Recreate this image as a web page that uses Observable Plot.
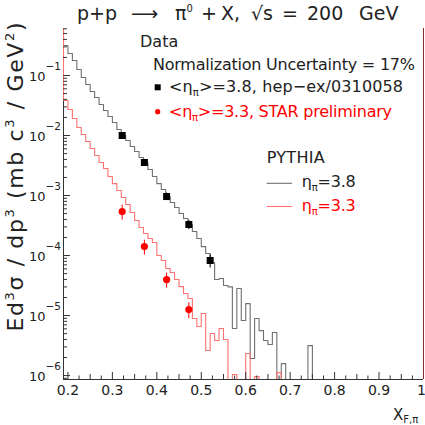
<!DOCTYPE html>
<html><head><meta charset="utf-8">
<script src="https://cdn.jsdelivr.net/npm/d3@7"></script>
<script src="https://cdn.jsdelivr.net/npm/@observablehq/plot@0.6"></script>
<style>html,body{margin:0;padding:0;background:#fff} svg{display:block}</style>
</head><body><div id="chart"></div>
<script>
// ---- data ----
const binStart = 0.19, binWidth = 0.01;
const pythia38 = [0.316,0.233,0.178,0.126,0.0926,0.0708,0.0541,0.0430,0.0329,0.0261,
  0.0207,0.0165,0.0126,0.0100,0.00825,0.00656,0.00541,0.00430,0.00355,0.00271,
  0.00207,0.00158,0.00126,0.000962,0.000764,0.000631,0.000501,0.000414,0.000329,0.000251,
  0.000192,0.000141,0.000108,0.0000764,0.0000398,0.0000414,0.0000316,0.0000301,0.00000607,0.0000282,
  0.00000826,0.0000158,0.00000192,0.00000891,0.00000562,0.00000383,0.00000329,0.00000521,0,0.00000158,
  0,0,0,0,0,0.00000316,0,0,0,0,
  0,0,0,0,0,0,0,0,0,0,
  0,0,0,0,0,0,0,0,0,0,0];
const pythia33 = [0.0383,0.0271,0.0192,0.0136,0.0104,0.00794,0.00607,0.00464,0.00355,0.00282,
  0.00207,0.00158,0.00121,0.000926,0.000708,0.000521,0.000383,0.000293,0.000233,0.000192,
  0.000165,0.000100,0.0000826,0.0000607,0.0000521,0.0000398,0.0000304,0.0000233,0.0000192,0.00000891,
  0.00000656,0.0000108,0.00000261,0.00000501,0.00000383,0.00000607,0.00000398,0,0.00000104,0,
  0,0.00000233,0,0.000000962,0,0,0,0,0.00000112,0,
  0,0,0,0,0,0,0,0,0,0,
  0,0,0,0,0,0,0,0,0,0,
  0,0,0,0,0,0,0,0,0,0,0];
const data38X = [0.322,0.372,0.422,0.472,0.520];
const data38Y = [0.0100,0.00355,0.000962,0.000329,0.0000826];
const data38Err = [0.10,0.12,0.14,0.18,0.25];
const data33X = [0.322,0.372,0.422,0.472];
const data33Y = [0.000541,0.000141,0.0000398,0.0000126];
const data33Err = [0.28,0.28,0.28,0.30];
const yDecades = [1e-6,1e-5,1e-4,1e-3,1e-2,1e-1];
const yExponents = ["\u22126","\u22125","\u22124","\u22123","\u22122","\u22121"];
const xTickValues = [0.2,0.3,0.4,0.5,0.6,0.7,0.8,0.9];
const xTickLabels = ["0.2","0.3","0.4","0.5","0.6","0.7","0.8","0.9"];
const xLastTick = [1.0];
const xLastLabel = ["1"];

// ---- layout ----
const W = 425, H = 425, mL = 63, mR = 2, mT = 28, mB = 46;
const fw = W - mL - mR, fh = H - mT - mB;
const yMin = 8.6e-7, yMax = 0.607, FLOOR = 1e-9;
const FONT = "DejaVu Sans, Liberation Sans, sans-serif";
const GRAY = "#707070", PINK = "#ff7070", RED = "#ff0000";

function histPoints(vals) {
  const pts = [{x: binStart, y: 10}];
  vals.forEach((v, i) => pts.push({x: binStart + i * binWidth, y: v > 0 ? v : FLOOR}));
  const last = vals[vals.length - 1];
  pts.push({x: binStart + vals.length * binWidth, y: last > 0 ? last : FLOOR});
  return pts;
}
const yMinor = [];
for (let e = -7; e <= -1; e++) for (let m = 2; m <= 9; m++) {
  const v = m * Math.pow(10, e);
  if (v > yMin && v < yMax) yMinor.push(v);
}
const xMid = [0.25,0.35,0.45,0.55,0.65,0.75,0.85,0.95];
const xSmall = d3.range(0.225, 1.0, 0.05);

const d38 = data38X.map((x, i) => ({x, y: data38Y[i], lo: data38Y[i] * (1 - data38Err[i]), hi: data38Y[i] * (1 + data38Err[i])}));
const d33 = data33X.map((x, i) => ({x, y: data33Y[i], lo: data33Y[i] * (1 - data33Err[i]), hi: data33Y[i] * (1 + data33Err[i])}));

const plot = Plot.plot({
  width: W, height: H,
  marginLeft: mL, marginRight: mR, marginTop: mT, marginBottom: mB,
  style: {fontFamily: FONT, background: "#fff", overflow: "visible"},
  x: {domain: [binStart, 1.0], axis: null},
  y: {type: "log", domain: [yMin, yMax], axis: null},
  marks: [
    Plot.ruleX([binStart], {stroke: "#333"}),
    Plot.ruleY([yMin], {stroke: "#333"}),
    Plot.line(histPoints(pythia38), {x: "x", y: "y", curve: "step-after", stroke: GRAY, strokeWidth: 1.1, clip: true}),
    Plot.line(histPoints(pythia33), {x: "x", y: "y", curve: "step-after", stroke: PINK, strokeWidth: 1.1, clip: true}),
    Plot.ruleX([1.0], {stroke: "#8b2a2a"}),
    Plot.tickY(yDecades, {y: d => d, insetRight: fw - 7, stroke: "#333"}),
    Plot.tickY(yMinor, {y: d => d, insetRight: fw - 4, stroke: "#333"}),
    Plot.tickX(xTickValues, {x: d => d, insetTop: fh - 7, stroke: "#333"}),
    Plot.tickX(xMid, {x: d => d, insetTop: fh - 5, stroke: "#333"}),
    Plot.tickX(xSmall, {x: d => d, insetTop: fh - 3.5, stroke: "#333"}),
    Plot.text(yDecades, {y: d => d, text: () => "10", frameAnchor: "left", textAnchor: "end", dx: -18, dy: 1.5, fontSize: 13, fill: "#222"}),
    Plot.text(yDecades, {y: d => d, text: (d, i) => yExponents[i], frameAnchor: "left", textAnchor: "start", dx: -18, dy: -9, fontSize: 10.5, fill: "#222"}),
    Plot.text(xTickValues, {x: d => d, text: (d, i) => xTickLabels[i], frameAnchor: "bottom", dy: 15, fontSize: 14, fill: "#222"}),
    Plot.text(xLastTick, {x: d => d, text: (d, i) => xLastLabel[i], frameAnchor: "bottom", dy: 15, dx: -2, fontSize: 14, fill: "#222"}),
    Plot.ruleX(d38, {x: "x", y1: "lo", y2: "hi", stroke: "#000"}),
    Plot.dot(d38, {x: "x", y: "y", symbol: "square", r: 3.95, fill: "#000", stroke: "none"}),
    Plot.ruleX(d33, {x: "x", y1: "lo", y2: "hi", stroke: RED}),
    Plot.dot(d33, {x: "x", y: "y", r: 3.6, fill: RED, stroke: "none"})
  ]
});
document.getElementById("chart").appendChild(plot);

// ---- texts with sub/superscripts ----
const svg = d3.select(plot);
const g = svg.append("g").attr("font-family", FONT).attr("text-anchor", "start");
function rich(x, y, parts, opts = {}) {
  const t = g.append("text").attr("x", x).attr("y", y)
    .attr("font-size", opts.size || 16).attr("fill", opts.fill || "#222")
    .attr("text-anchor", opts.anchor || "start");
  if (opts.len) t.attr("textLength", opts.len).attr("lengthAdjust", "spacing");
  if (opts.transform) t.attr("transform", opts.transform);
  parts.forEach(p => {
    const s = t.append("tspan").text(p.t);
    if (p.x != null) s.attr("x", p.x);
    if (p.dy) s.attr("dy", p.dy);
    if (p.size) s.attr("font-size", p.size);
  });
  return t;
}
// title
rich(77, 20, [
  {t: "p+p", x: 77}, {t: "\u27f6", x: 131}, {t: "\u03c0", x: 175}, {t: "0", size: 10, dy: -8},
  {t: "+", x: 201, dy: 8}, {t: "X,", x: 221}, {t: "\u221as", x: 251}, {t: "=", x: 282},
  {t: "200", x: 307}, {t: "GeV", x: 359}
], {size: 19});
// y label
rich(0, 0, [
  {t: "Ed"}, {t: "3", size: 13, dy: -9}, {t: "\u03c3 / dp", dy: 9}, {t: "3", size: 13, dy: -9},
  {t: " (mb c", dy: 9}, {t: "3", size: 13, dy: -9}, {t: " / GeV", dy: 9}, {t: "2", size: 13, dy: -9}, {t: ")", dy: 9}
], {size: 22, anchor: "middle", transform: "translate(23,177) rotate(-90)", len: 309});
// legend
rich(140, 46.5, [{t: "Data"}], {size: 16});
rich(153, 70, [{t: "Normalization Uncertainty = 17%"}], {size: 16, len: 262});
g.append("rect").attr("x", 154.7).attr("y", 84.3).attr("width", 6).attr("height", 6).attr("fill", "#000");
rich(169, 92, [{t: "<\u03b7"}, {t: "\u03c0", size: 10, dy: 4}, {t: ">=3.8, hep\u2212ex/0310058", dy: -4}], {size: 16, len: 234});
g.append("circle").attr("cx", 157.7).attr("cy", 111.7).attr("r", 2.6).attr("fill", RED);
rich(169, 117, [{t: "<\u03b7"}, {t: "\u03c0", size: 10, dy: 4}, {t: ">=3.3, STAR preliminary", dy: -4}], {size: 16, len: 223, fill: RED});
rich(266.7, 162.5, [{t: "PYTHIA"}], {size: 16, len: 58});
g.append("line").attr("x1", 266.7).attr("x2", 292).attr("y1", 183.3).attr("y2", 183.3).attr("stroke", GRAY).attr("stroke-width", 1.1);
rich(301.7, 187, [{t: "\u03b7"}, {t: "\u03c0", size: 10, dy: 4}, {t: "=3.8", dy: -4}], {size: 16, len: 54});
g.append("line").attr("x1", 266.7).attr("x2", 292).attr("y1", 206.5).attr("y2", 206.5).attr("stroke", PINK).attr("stroke-width", 1.1);
rich(301.7, 210.5, [{t: "\u03b7"}, {t: "\u03c0", size: 10, dy: 4}, {t: "=3.3", dy: -4}], {size: 16, len: 54, fill: RED});
// x label
rich(393, 419.5, [{t: "X"}, {t: "F,\u03c0", size: 10, dy: 3}], {size: 15});
</script>
</body></html>
